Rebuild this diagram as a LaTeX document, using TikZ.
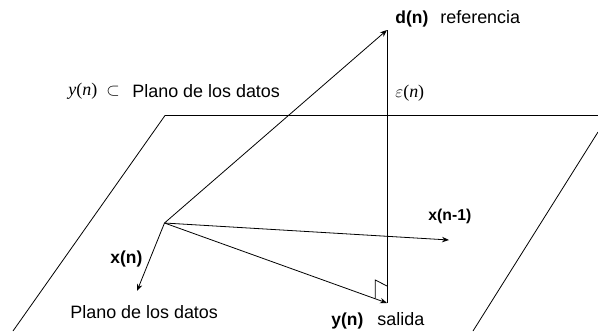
\documentclass[tikz,border=0pt]{standalone}
\usepackage{amsmath, amssymb}
\usepackage{fontspec}
\setmainfont{Liberation Sans}
\newfontfamily\serifmath{Liberation Serif}
\usetikzlibrary{arrows.meta}

\begin{document}
\begin{tikzpicture}[x=1bp, y=1bp, >={Stealth[length=7bp,width=5.5bp]}, line width=0.8bp,
    textlabel/.style={inner sep=0pt, anchor=base west, font=\fontsize{18}{20}\selectfont},
    boldlabel/.style={textlabel, font=\fontsize{17.5}{20}\selectfont\bfseries},
    mathlabel/.style={inner sep=0pt, anchor=base west, font=\fontsize{18}{20}\selectfont\serifmath}]
        \useasboundingbox (0,0) rectangle (598,331);

        % --- Data plane ---
        \coordinate (plane_left) at (13, 0);
        \coordinate (plane_top) at (165, 215.5);
        \coordinate (plane_end) at (598, 215.5);
        \coordinate (plane_right_top) at (598, 199);
        \coordinate (plane_right_bottom) at (473, 0);
        \draw (plane_left) -- (plane_top) -- (plane_end);
        \draw (plane_right_top) -- (plane_right_bottom);

        % --- Vectors ---
        \coordinate (origin) at (164.5, 108);
        \coordinate (d_point) at (387, 301);
        \coordinate (y_point) at (387, 28);
        \coordinate (x_point) at (137, 40);
        \coordinate (x1_point) at (449, 91);
        \draw[->] (origin) -- (d_point);
        \draw[->] (origin) -- (x_point);
        \draw[->] (origin) -- (x1_point);
        \draw[->] (origin) -- (y_point);

        % --- Error and right angle ---
        \draw (d_point) -- (y_point);
        \coordinate (corner_a) at (375.3, 32.5);
        \coordinate (corner_b) at (375.3, 51);
        \coordinate (corner_c) at (387, 45);
        \draw (corner_a) -- (corner_b) -- (corner_c);

        % --- Labels ---
        \node[boldlabel] (d_name) at (395, 308) {d(n)};
        \node[textlabel] (d_text) at (440, 308) {referencia};
        \node[mathlabel] (y_math) at (68, 236) {\textit{y}(\textit{n})};
        \node[mathlabel] (subset) at (106, 236) {$\subset$};
        \node[textlabel] (plane_top_text) at (132, 234) {Plano de los datos};
        \node[mathlabel] (error) at (395, 234) {$\varepsilon$(\textit{n})};
        \node[boldlabel, font=\fontsize{15.8}{20}\selectfont\bfseries] (x1_name) at (428, 111) {x(n-1)};
        \node[boldlabel] (x_name) at (110, 68) {x(n)};
        \node[textlabel] (plane_bottom_text) at (70, 13) {Plano de los datos};
        \node[boldlabel] (y_name) at (331, 6) {y(n)};
        \node[textlabel] (y_text) at (377, 6) {salida};
    \end{tikzpicture}
\end{document}
